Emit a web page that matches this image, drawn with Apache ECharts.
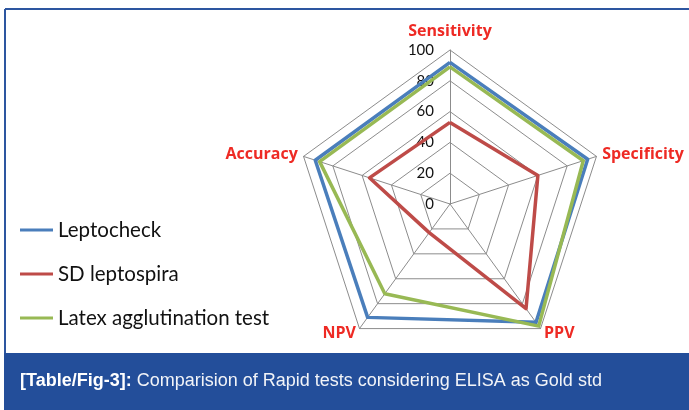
<!DOCTYPE html>
<html>
<head>
<meta charset="utf-8">
<script src="https://cdn.jsdelivr.net/npm/echarts@6/dist/echarts.min.js"></script>
<style>
html,body{margin:0;padding:0;background:#fff;}
#chart{width:689px;height:410px;}
</style>
</head>
<body>
<div id="chart"></div>
<script>
// ECharts lays radar indicators out counter-clockwise from the top
var indicators = ['Sensitivity', 'Accuracy', 'NPV', 'PPV', 'Specificity'];
var axisMax = 100;
var leptocheck = [92, 92, 91, 95, 94];
var sdLeptospira = [53, 55, 23, 84, 60];
var latexAgglutination = [89, 89, 72, 98, 91];
var seriesNames = ['Leptocheck', 'SD leptospira', 'Latex agglutination test'];
var seriesColors = ['#4a7ebb', '#be4b48', '#98b954'];
var caption = 'Comparision of Rapid tests considering ELISA as Gold std';
var captionTag = '[Table/Fig-3]:';

var chart = echarts.init(document.getElementById('chart'));
var values = [leptocheck, sdLeptospira, latexAgglutination];
chart.setOption({
  animation: false,
  backgroundColor: '#ffffff',
  legend: {
    orient: 'vertical',
    left: 20,
    top: 219,
    padding: 0,
    itemGap: 22,
    itemWidth: 33,
    itemHeight: 3,
    icon: 'rect',
    textStyle: { fontFamily: 'Lato', fontSize: 20.5, lineHeight: 22, color: '#111' },
    data: seriesNames
  },
  radar: {
    center: [450, 204],
    radius: 154,
    startAngle: 90,
    shape: 'polygon',
    splitNumber: 5,
    indicator: indicators.map(function (n, i) {
      var o = { name: n, max: axisMax, min: 0 };
      if (i === 0) { o.nameGap = 11; } else { o.axisLabel = { show: false }; }
      return o;
    }),
    axisName: {
      color: '#ee2a24',
      fontFamily: 'Open Sans',
      fontWeight: 'bold',
      fontSize: 16
    },
    nameGap: 6,
    splitLine: { lineStyle: { color: '#8c8c8c', width: 1 } },
    splitArea: { show: false },
    axisLine: { lineStyle: { color: '#8c8c8c', width: 1 } },
    axisTick: { show: false },
    axisLabel: {
      show: true,
      color: '#111',
      fontFamily: 'Lato',
      fontSize: 15,
      margin: 16,
      showMinLabel: true,
      showMaxLabel: true
    }
  },
  series: [{
    type: 'radar',
    symbol: 'none',
    data: values.map(function (v, i) {
      return {
        name: seriesNames[i],
        value: v,
        lineStyle: { color: seriesColors[i], width: 3.5 },
        itemStyle: { color: seriesColors[i] }
      };
    })
  }],
  graphic: [
    { type: 'line', shape: { x1: 5, y1: 9, x2: 689, y2: 9 }, style: { stroke: '#2d56a0', lineWidth: 2 } },
    { type: 'line', shape: { x1: 5, y1: 9, x2: 5, y2: 353 }, style: { stroke: '#2d56a0', lineWidth: 2 } },
    { type: 'rect', shape: { x: 4, y: 353, width: 685, height: 57 }, style: { fill: '#234e9a' } },
    {
      type: 'text', left: 20, top: 372,
      style: {
        text: '{b|' + captionTag + '} ' + caption,
        fill: '#f2f4f8',
        font: '18px "Liberation Sans"',
        rich: { b: { fontWeight: 'bold', fontSize: 18, fontFamily: 'Liberation Sans', fill: '#ffffff' } }
      }
    }
  ]
});
</script>
</body>
</html>
